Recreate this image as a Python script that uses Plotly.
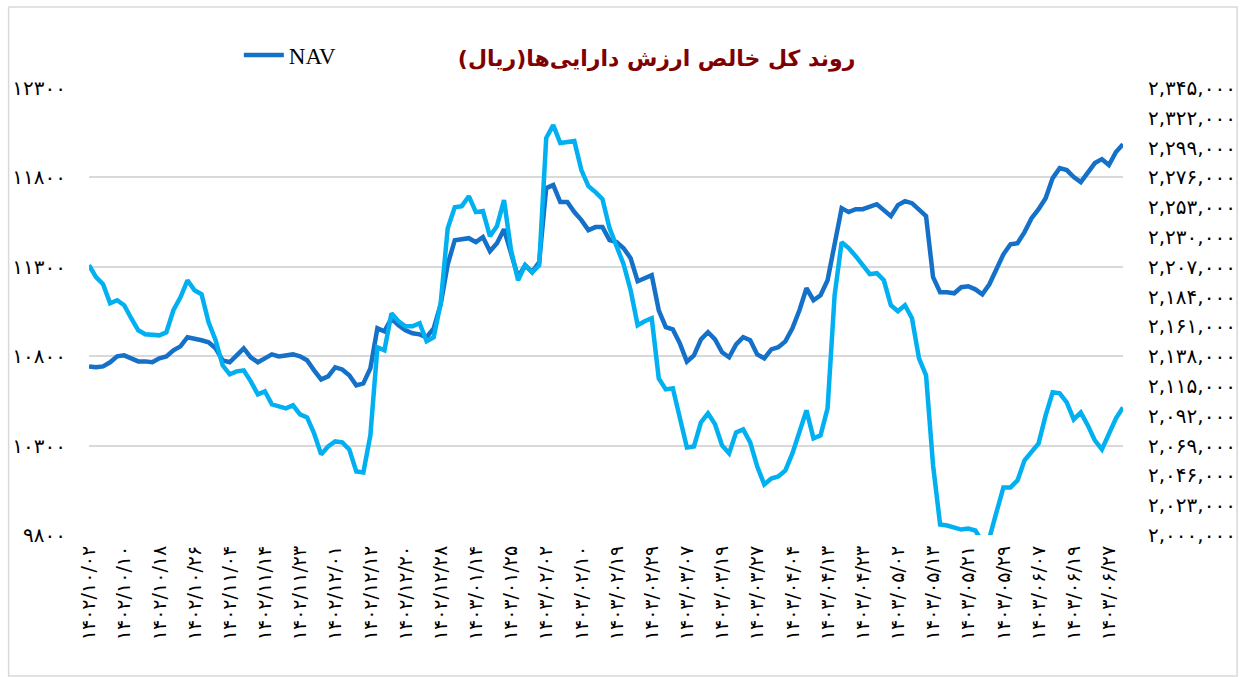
import plotly.graph_objects as go

FA = str.maketrans("0123456789", "۰۱۲۳۴۵۶۷۸۹")

def fa(s):
    return str(s).translate(FA)

title_text = "روند کل خالص ارزش دارایی‌ها(ریال)"

tick_labels = [
    "1402/10/02", "1402/10/10", "1402/10/18", "1402/10/26", "1402/11/04",
    "1402/11/14", "1402/11/23", "1402/12/01", "1402/12/12", "1402/12/20",
    "1402/12/28", "1403/01/14", "1403/01/25", "1403/02/02", "1403/02/10",
    "1403/02/19", "1403/02/29", "1403/03/07", "1403/03/19", "1403/03/27",
    "1403/04/04", "1403/04/13", "1403/04/23", "1403/05/02", "1403/05/13",
    "1403/05/21", "1403/05/29", "1403/06/07", "1403/06/19", "1403/06/27",
]

# NAV (left axis)
nav = [
    10743, 10738, 10743, 10766, 10799, 10805, 10788, 10771, 10771, 10766,
    10788, 10799, 10833, 10855, 10906, 10900, 10889, 10878, 10844, 10777,
    10766, 10805, 10844, 10794, 10766, 10788, 10810, 10799, 10805, 10810,
    10799, 10777, 10721, 10670, 10687, 10738, 10726, 10693, 10637, 10648,
    10732, 10956, 10939, 11012, 10973, 10945, 10928, 10922, 10906, 10956,
    11090, 11314, 11449, 11454, 11460, 11438, 11466, 11387, 11432, 11510,
    11365, 11242, 11309, 11270, 11326, 11740, 11757, 11662, 11662, 11606,
    11561, 11505, 11522, 11522, 11449, 11438, 11404, 11348, 11219, 11236,
    11253, 11057, 10962, 10950, 10872, 10770, 10805, 10894, 10934, 10894,
    10822, 10794, 10866, 10906, 10889, 10810, 10788, 10838, 10850, 10883,
    10956, 11057, 11180, 11113, 11141, 11225, 11421, 11628, 11606, 11622,
    11622, 11634, 11650, 11617, 11583, 11645, 11667, 11656, 11617, 11583,
    11242, 11158, 11158, 11152, 11186, 11191, 11174, 11146, 11202, 11281,
    11370, 11426, 11432, 11494, 11572, 11622, 11684, 11796, 11852, 11841,
    11802, 11774, 11824, 11880, 11902, 11869, 11942, 11986,
]

# Total net asset value (right axis)
total_value = [
    2208200, 2199000, 2193600, 2178900, 2181200, 2177300, 2167300, 2158000, 2154900, 2154100,
    2154100, 2156500, 2173500, 2183500, 2196600, 2188900, 2185800, 2164200, 2150300, 2131000,
    2124000, 2126300, 2127100, 2118600, 2108600, 2110900, 2100800, 2099300, 2097700, 2100100,
    2093100, 2090800, 2078400, 2062200, 2068400, 2072200, 2071500, 2066100, 2049100, 2048300,
    2076900, 2144900, 2142600, 2171100, 2165000, 2161100, 2161100, 2163400, 2149500, 2152600,
    2178900, 2236800, 2253000, 2253800, 2261500, 2249200, 2250000, 2230600, 2238400, 2258500,
    2219800, 2196600, 2208200, 2202800, 2208200, 2306400, 2316400, 2302500, 2303300, 2304000,
    2281600, 2269300, 2264600, 2259200, 2236800, 2223700, 2209000, 2188900, 2161900, 2165000,
    2167300, 2120900, 2112400, 2113200, 2091600, 2067600, 2068400, 2086900, 2093900, 2085400,
    2069100, 2063000, 2079200, 2081500, 2071500, 2052900, 2039000, 2043600, 2045200, 2049800,
    2063000, 2080700, 2096200, 2074600, 2076900, 2097700, 2185100, 2226000, 2221400, 2215200,
    2208200, 2201300, 2202100, 2196600, 2177300, 2172700, 2177300, 2167300, 2136400, 2123200,
    2053700, 2008100, 2007300, 2005800, 2004200, 2005000, 2003500, 1995000, 1997500, 2017400,
    2036700, 2036700, 2042100, 2057600, 2064500, 2070700, 2092300, 2110100, 2109300, 2102400,
    2089200, 2094600, 2084600, 2073000, 2066100, 2078400, 2090000, 2098500,
]

left_ticks = [9800, 10300, 10800, 11300, 11800, 12300]
right_ticks = [2000000 + 23000 * k for k in range(16)]

day_index = list(range(len(nav)))
tick_pos = [5 * k for k in range(len(tick_labels))]

W, H = 1248, 677
L, R, T, B = 86, 120, 88, 142
pw, ph = W - L - R, H - T - B

def px_x(p):
    return (p - L) / pw

def px_y(p):
    return (H - B - p) / ph

fig = go.Figure()
fig.add_trace(go.Scatter(
    x=day_index, y=nav, name="NAV", mode="lines",
    line=dict(color="#1570C8", width=4.5), yaxis="y",
))
fig.add_trace(go.Scatter(
    x=day_index, y=total_value, name="کل خالص ارزش دارایی‌ها", mode="lines",
    line=dict(color="#00B0F0", width=4.5), yaxis="y2", showlegend=False,
))

yfont = dict(family="DejaVu Sans", size=20, color="#000000")
xfont = dict(family="DejaVu Sans", size=19, color="#000000")

fig.update_layout(
    width=W, height=H,
    margin=dict(l=L, r=R, t=T, b=B),
    paper_bgcolor="white", plot_bgcolor="white",
    title=dict(
        text=title_text, x=px_x(658), xanchor="center", xref="paper",
        y=1 - 58 / H, yanchor="middle",
        font=dict(family="DejaVu Sans", size=22, color="#7F0000", weight="bold"),
    ),
    showlegend=True,
    legend=dict(
        x=px_x(237), y=px_y(55), xanchor="left", yanchor="middle",
        font=dict(family="Liberation Serif", size=23, color="#000000"),
        bgcolor="rgba(0,0,0,0)", itemwidth=40,
    ),
    xaxis=dict(
        range=[0, len(nav) - 1],
        tickmode="array", tickvals=tick_pos, ticktext=[fa(t) for t in tick_labels],
        tickangle=-90, tickfont=xfont, showgrid=False, zeroline=False,
        showline=False, ticks="", ticklabelstandoff=6,
    ),
    yaxis=dict(
        range=[9800, 12300], tickmode="array", tickvals=left_ticks,
        ticktext=[fa(v) for v in left_ticks], tickfont=yfont,
        showgrid=True, gridcolor="#D9D9D9", gridwidth=1.5, zeroline=False,
        showline=False, ticks="", ticklabelstandoff=22,
    ),
    yaxis2=dict(
        range=[2000000, 2345000], overlaying="y", side="right",
        tickmode="array", tickvals=right_ticks,
        ticktext=[fa(f"{v:,}") for v in right_ticks], tickfont=yfont,
        showgrid=False, zeroline=False, showline=False, ticks="",
        ticklabelstandoff=24,
    ),
    shapes=[dict(
        type="rect", xref="paper", yref="paper",
        x0=px_x(5), x1=px_x(1243), y0=px_y(676), y1=px_y(7),
        line=dict(color="#D9D9D9", width=1.5), fillcolor="rgba(0,0,0,0)",
        layer="below",
    )],
)

fig.write_html("out.html", config={"displayModeBar": False},
               post_script="document.body.style.margin='0';")
